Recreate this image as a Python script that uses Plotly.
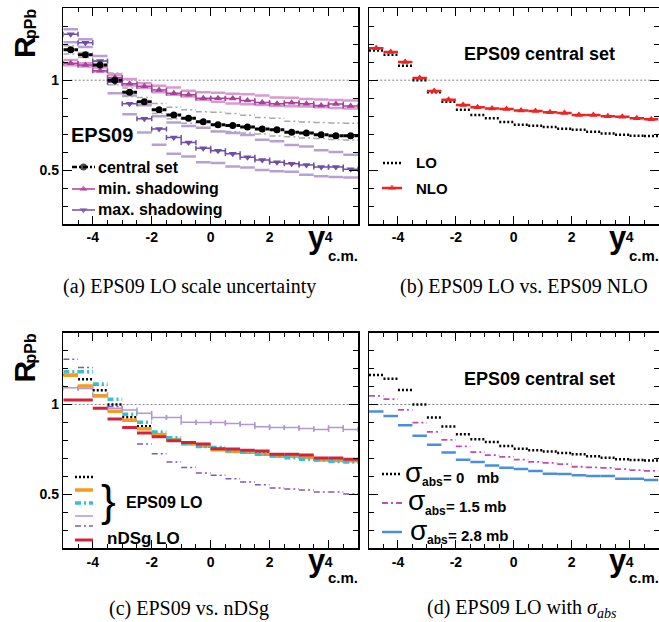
import plotly.graph_objects as go

W, H = 659, 622

# ---------------- data ----------------
bin_edges = [-5.0, -4.5, -4.0, -3.5, -3.0, -2.5, -2.0, -1.5, -1.0, -0.5, 0.0,
             0.5, 1.0, 1.5, 2.0, 2.5, 3.0, 3.5, 4.0, 4.5, 5.0]
bin_centers = [(bin_edges[i] + bin_edges[i + 1]) / 2 for i in range(20)]

# (a) EPS09 LO scale uncertainty
a_central = [1.169, 1.141, 1.085, 1.000, 0.933, 0.880, 0.835, 0.807, 0.789, 0.769,
             0.752, 0.748, 0.739, 0.728, 0.724, 0.711, 0.706, 0.696, 0.691, 0.691]
a_central_up = [1.191, 1.154, 1.104, 1.040, 0.956, 0.904, 0.870, 0.850, 0.835, 0.825,
                0.822, 0.815, 0.805, 0.792, 0.788, 0.772, 0.768, 0.765, 0.762, 0.760]
a_central_lo = [1.146, 1.126, 1.068, 0.975, 0.909, 0.863, 0.815, 0.785, 0.760, 0.733,
                0.716, 0.714, 0.706, 0.700, 0.690, 0.685, 0.679, 0.676, 0.670, 0.668]
a_min = [1.094, 1.085, 1.052, 1.015, 0.980, 0.967, 0.946, 0.928, 0.919, 0.900,
         0.900, 0.898, 0.887, 0.876, 0.869, 0.874, 0.869, 0.859, 0.867, 0.857]
a_min_up = [1.113, 1.094, 1.070, 1.033, 1.007, 0.983, 0.969, 0.960, 0.941, 0.933,
            0.930, 0.925, 0.922, 0.915, 0.904, 0.902, 0.896, 0.892, 0.890, 0.887]
a_min_lo = [1.083, 1.076, 1.048, 1.011, 0.970, 0.956, 0.933, 0.919, 0.909, 0.891,
            0.880, 0.870, 0.866, 0.862, 0.856, 0.855, 0.853, 0.850, 0.846, 0.843]
a_max = [1.256, 1.209, 1.107, 0.989, 0.869, 0.785, 0.728, 0.681, 0.654, 0.622,
         0.607, 0.591, 0.572, 0.556, 0.544, 0.535, 0.528, 0.517, 0.517, 0.504]
a_max_up = [1.283, 1.228, 1.135, 1.030, 0.915, 0.860, 0.800, 0.765, 0.745, 0.735,
            0.715, 0.706, 0.695, 0.669, 0.660, 0.640, 0.631, 0.610, 0.600, 0.585]
a_max_lo = [1.211, 1.185, 1.075, 0.928, 0.811, 0.709, 0.641, 0.591, 0.576, 0.544,
            0.539, 0.520, 0.515, 0.500, 0.493, 0.490, 0.474, 0.465, 0.461, 0.458]

# (b) EPS09 LO vs NLO
b_lo = [1.165, 1.141, 1.080, 1.000, 0.933, 0.880, 0.835, 0.807, 0.789, 0.767,
        0.752, 0.746, 0.739, 0.730, 0.724, 0.713, 0.704, 0.696, 0.691, 0.689]
b_nlo = [1.178, 1.157, 1.101, 1.012, 0.940, 0.891, 0.862, 0.850, 0.842, 0.840,
         0.831, 0.828, 0.822, 0.817, 0.806, 0.806, 0.800, 0.796, 0.789, 0.783]

# (c) EPS09 vs nDSg
c_central = [1.165, 1.141, 1.080, 1.000, 0.930, 0.880, 0.835, 0.807, 0.789, 0.767,
             0.752, 0.746, 0.739, 0.730, 0.724, 0.713, 0.704, 0.696, 0.691, 0.689]
c_orange = [1.163, 1.104, 1.048, 0.963, 0.913, 0.865, 0.833, 0.805, 0.781, 0.769,
            0.748, 0.739, 0.735, 0.724, 0.713, 0.713, 0.706, 0.691, 0.689, 0.687]
c_cyan = [1.182, 1.182, 1.115, 1.030, 0.946, 0.902, 0.847, 0.816, 0.785, 0.767,
          0.761, 0.743, 0.735, 0.724, 0.717, 0.704, 0.696, 0.691, 0.683, 0.680]
c_min = [1.094, 1.090, 1.054, 0.980, 0.970, 0.952, 0.928, 0.928, 0.902, 0.900,
         0.900, 0.894, 0.889, 0.876, 0.872, 0.872, 0.867, 0.861, 0.872, 0.861]
c_max = [1.252, 1.207, 1.107, 0.989, 0.869, 0.780, 0.726, 0.680, 0.650, 0.619,
         0.606, 0.587, 0.569, 0.554, 0.535, 0.530, 0.524, 0.513, 0.513, 0.502]
c_ndsg = [1.025, 1.025, 0.980, 0.920, 0.872, 0.842, 0.821, 0.798, 0.789, 0.780,
          0.754, 0.752, 0.746, 0.741, 0.724, 0.724, 0.719, 0.702, 0.702, 0.696]

# (d) EPS09 LO with sigma_abs
d_s00 = [1.165, 1.143, 1.081, 1.000, 0.928, 0.878, 0.835, 0.807, 0.792, 0.769,
         0.754, 0.746, 0.739, 0.730, 0.724, 0.713, 0.704, 0.696, 0.691, 0.689]
d_s15 = [1.048, 1.030, 0.970, 0.900, 0.848, 0.804, 0.767, 0.735, 0.719, 0.709,
         0.694, 0.681, 0.676, 0.669, 0.654, 0.650, 0.648, 0.641, 0.635, 0.631]
d_s28 = [0.961, 0.937, 0.885, 0.826, 0.776, 0.733, 0.693, 0.680, 0.661, 0.648,
         0.641, 0.630, 0.615, 0.613, 0.606, 0.602, 0.602, 0.587, 0.587, 0.580]

x_tick_vals = [-4, -2, 0, 2, 4]
x_tick_text = ["-4", "-2", "0", "2", "4"]
y_tick_vals = [0.5, 1.0]
y_tick_text = ["0.5", "1"]

captions = ["(a) EPS09 LO scale uncertainty", "(b) EPS09 LO vs. EPS09 NLO",
            "(c) EPS09 vs. nDSg", "(d) EPS09 LO with <i>σ<sub>abs</sub></i>"]

# ---------------- colours ----------------
C_BLACK = "#000000"
C_GRAY = "#a8a8a8"
C_MIN = "#a8409c"
C_MIN_BAND = "#d89ad0"
C_MAX = "#6f4ea6"
C_MAX_BAND = "#b9a0d4"
C_ORANGE = "#f39c1f"
C_CYAN = "#3bbfcf"
C_LPURP = "#b496d2"
C_VIOLET = "#7a5cb4"
C_RED_C = "#d2233c"
C_RED_B = "#ee2424"
C_PINK_D = "#c04cb0"
C_BLUE = "#4a8fd8"

DOTTED = "2px,2px"
DASHDOT = "6px,3px,2px,3px"

FONT = "Liberation Sans"
SERIF = "Liberation Serif"


def px(x):
    return x / W


def py(y):
    return 1 - y / H


def segments(vals):
    xs, ys = [], []
    for i, v in enumerate(vals):
        xs += [bin_edges[i], bin_edges[i + 1], None]
        ys += [v, v, None]
    return xs, ys


fig = go.Figure()


def add_seg(vals, color, width, dash, xa, ya):
    xs, ys = segments(vals)
    fig.add_trace(go.Scatter(x=xs, y=ys, mode="lines", xaxis=xa, yaxis=ya,
                             line=dict(color=color, width=width, dash=dash),
                             hoverinfo="skip", showlegend=False))


def add_err(vals, color, symbol, xa, ya, msize=7, lw=1.5, show_marker=True):
    fig.add_trace(go.Scatter(
        x=bin_centers, y=vals, mode="markers", xaxis=xa, yaxis=ya,
        marker=dict(symbol=symbol, size=msize if show_marker else 0.1,
                    color=color, line=dict(width=0)),
        error_x=dict(type="constant", value=0.25, width=2.5, thickness=lw, color=color),
        hoverinfo="skip", showlegend=False))


def add_markers(vals, color, symbol, xa, ya, msize=7):
    fig.add_trace(go.Scatter(x=bin_centers, y=vals, mode="markers", xaxis=xa, yaxis=ya,
                             marker=dict(symbol=symbol, size=msize, color=color,
                                         line=dict(width=0)),
                             hoverinfo="skip", showlegend=False))


# ---------------- panel (a) ----------------
add_seg(a_max_up, C_MAX_BAND, 2.5, "solid", "x", "y")
add_seg(a_max_lo, C_MAX_BAND, 2.5, "solid", "x", "y")
add_seg(a_central_up, C_GRAY, 1.5, DASHDOT, "x", "y")
add_seg(a_central_lo, C_GRAY, 1.5, DASHDOT, "x", "y")
add_seg(a_min_up, C_MIN_BAND, 2.5, "solid", "x", "y")
add_seg(a_min_lo, C_MIN_BAND, 2.5, "solid", "x", "y")
add_err(a_max, C_MAX, "triangle-down", "x", "y")
add_err(a_min, C_MIN, "triangle-up", "x", "y")
add_seg(a_central, C_BLACK, 3, "5px,2px,2px,2px", "x", "y")
add_markers(a_central, C_BLACK, "circle", "x", "y", 7)

# ---------------- panel (b) ----------------
add_seg(b_lo, C_BLACK, 2.5, DOTTED, "x2", "y2")
add_seg(b_nlo, C_RED_B, 2.5, "solid", "x2", "y2")
add_markers(b_nlo, C_RED_B, "triangle-up", "x2", "y2", 7)

# ---------------- panel (c) ----------------
add_err(c_min, C_LPURP, "circle", "x3", "y3", lw=1.5, show_marker=False)
add_seg(c_max, C_VIOLET, 1.5, DASHDOT, "x3", "y3")
add_seg(c_central, C_BLACK, 2.5, DOTTED, "x3", "y3")
add_seg(c_orange, C_ORANGE, 3.5, "solid", "x3", "y3")
add_seg(c_cyan, C_CYAN, 3.5, DASHDOT, "x3", "y3")
add_seg(c_ndsg, C_RED_C, 3, "solid", "x3", "y3")

# ---------------- panel (d) ----------------
add_seg(d_s00, C_BLACK, 2.5, DOTTED, "x4", "y4")
add_seg(d_s15, C_PINK_D, 1.8, DASHDOT, "x4", "y4")
add_seg(d_s28, C_BLUE, 2.5, "solid", "x4", "y4")


# ---------------- legend samples on a full-page overlay axis ----------------
def sample(x0, x1, y, color, width, dash, symbol=None, msize=7):
    xc = (x0 + x1) / 2
    fig.add_trace(go.Scatter(
        x=[x0, xc, x1], y=[y, y, y], mode="lines+markers" if symbol else "lines",
        xaxis="x5", yaxis="y5",
        line=dict(color=color, width=width, dash=dash),
        marker=dict(symbol=symbol or "circle", size=[0, msize, 0], color=color,
                    line=dict(width=0)),
        hoverinfo="skip", showlegend=False))


sample(72, 95, 167, C_BLACK, 2.5, "5px,2px,2px,2px", "circle", 7)
sample(72, 95, 189, C_MIN, 1.5, "solid", "triangle-up")
sample(72, 95, 210, C_MAX, 1.5, "solid", "triangle-down")

sample(383, 402, 163, C_BLACK, 2.5, DOTTED)
sample(382, 402, 188, C_RED_B, 2.5, "solid", "triangle-up")

sample(75, 93, 477, C_BLACK, 2.5, DOTTED)
sample(75, 93, 490, C_ORANGE, 3.5, "solid")
sample(75, 93, 503, C_CYAN, 3.5, DASHDOT)
sample(75, 93, 516, C_LPURP, 1.5, "solid")
sample(75, 93, 526, C_VIOLET, 1.5, DASHDOT)
sample(75, 93, 540, C_RED_C, 3, "solid")

sample(382, 402, 474, C_BLACK, 2.5, DOTTED)
sample(382, 402, 503, C_PINK_D, 1.8, DASHDOT)
sample(382, 402, 532, C_BLUE, 2.5, "solid")

# ---------------- axes ----------------
XA = [63.3 / W, 358 / W]
XB = [369 / W, 658.5 / W]
YT = [py(224), py(8.3)]
YB = [py(548.3), py(332.7)]

tickfont = dict(family=FONT, size=14, color="black", weight="bold")


def xax(domain, anchor):
    return dict(domain=domain, anchor=anchor, range=[-5, 5], showline=True,
                linecolor="black", linewidth=1.5, mirror="ticks", ticks="inside",
                ticklen=8, tickwidth=1, tickcolor="black", tickmode="array",
                tickvals=x_tick_vals, ticktext=x_tick_text, tickfont=tickfont,
                minor=dict(dtick=0.5, tick0=0, ticks="inside", ticklen=4,
                           tickcolor="black", tickwidth=1),
                showgrid=False, zeroline=False, fixedrange=True)


def yax(domain, anchor, labels):
    return dict(domain=domain, anchor=anchor, range=[0.2, 1.4], showline=True,
                linecolor="black", linewidth=1.5, mirror="ticks", ticks="inside",
                ticklen=9, tickwidth=1, tickcolor="black", tickmode="array",
                tickvals=y_tick_vals, ticktext=y_tick_text, tickfont=tickfont,
                showticklabels=labels,
                minor=dict(dtick=0.1, tick0=0, ticks="inside", ticklen=5,
                           tickcolor="black", tickwidth=1),
                showgrid=False, zeroline=False, fixedrange=True)


fig.update_layout(
    width=W, height=H, margin=dict(l=0, r=0, t=0, b=0),
    paper_bgcolor="white", plot_bgcolor="rgba(0,0,0,0)",
    xaxis=xax(XA, "y"), yaxis=yax(YT, "x", True),
    xaxis2=xax(XB, "y2"), yaxis2=yax(YT, "x2", False),
    xaxis3=xax(XA, "y3"), yaxis3=yax(YB, "x3", True),
    xaxis4=xax(XB, "y4"), yaxis4=yax(YB, "x4", False),
    xaxis5=dict(domain=[0, 1], anchor="y5", range=[0, W], visible=False, fixedrange=True),
    yaxis5=dict(domain=[0, 1], anchor="x5", range=[H, 0], visible=False, fixedrange=True),
    showlegend=False,
)

# reference line at 1
for xa, ya in [("x", "y"), ("x2", "y2"), ("x3", "y3"), ("x4", "y4")]:
    fig.add_shape(type="line", xref=xa, yref=ya, x0=bin_centers[0], x1=bin_centers[-1],
                  y0=1, y1=1, line=dict(color="#808080", width=1, dash="2px,2px"),
                  layer="below")


# ---------------- text ----------------
def text(x, y, s, size, anchor="center", bold=True, family=FONT, angle=0, yanchor="middle"):
    fig.add_annotation(x=px(x), y=py(y), xref="paper", yref="paper", text=s,
                       showarrow=False, xanchor=anchor, yanchor=yanchor,
                       textangle=angle, borderpad=0,
                       font=dict(family=family, size=size, color="black",
                                 weight="bold" if bold else "normal"))


for dy in (0, 324.5):
    # y-axis title
    text(24, 47 + dy, "R", 30, angle=-90)
    text(30, 24 + dy, "pPb", 16, angle=-90)

for xr, dy in [(327, 0), (628, 0), (327, 322), (628, 322)]:
    text(xr, 238 + dy, "y", 31, anchor="right")
    text(xr, 255 + dy, "c.m.", 15, anchor="left")

# panel a legend
text(102, 135, "EPS09", 20)
text(97, 167, "central set", 16, anchor="left")
text(97, 189, "min. shadowing", 16, anchor="left")
text(97, 210, "max. shadowing", 16, anchor="left")

# panel b
text(539, 54, "EPS09 central set", 18)
text(415, 163, "LO", 15, anchor="left")
text(415, 188, "NLO", 15, anchor="left")

# panel c
text(108, 500, "}", 44, bold=False)
text(125, 502, "EPS09 LO", 16, anchor="left")
text(106, 538, "nDSg LO", 17, anchor="left")

# panel d
text(539, 379, "EPS09 central set", 18)
sig_rows = [(474, 404, "=\u00a00\u00a0\u00a0\u00a0mb"), (503, 407, "=\u00a01.5\u00a0mb"),
            (532, 409, "=\u00a02.8\u00a0mb")]
for yy, xx, lab in sig_rows:
    text(xx, yy - 2, "σ", 28, anchor="left", bold=False)
    text(xx + 17, yy + 8, "abs", 12, anchor="left")
    text(xx + 38, yy + 3, lab, 15, anchor="left")

# captions
text(189, 286, captions[0], 20, bold=False, family=SERIF)
text(524, 286, captions[1], 20, bold=False, family=SERIF)
text(189, 608, captions[2], 20, bold=False, family=SERIF)
text(522, 608, captions[3], 20, bold=False, family=SERIF)

fig.write_html("out.html", config={"staticPlot": True},
               post_script="document.body.style.margin='0';")
